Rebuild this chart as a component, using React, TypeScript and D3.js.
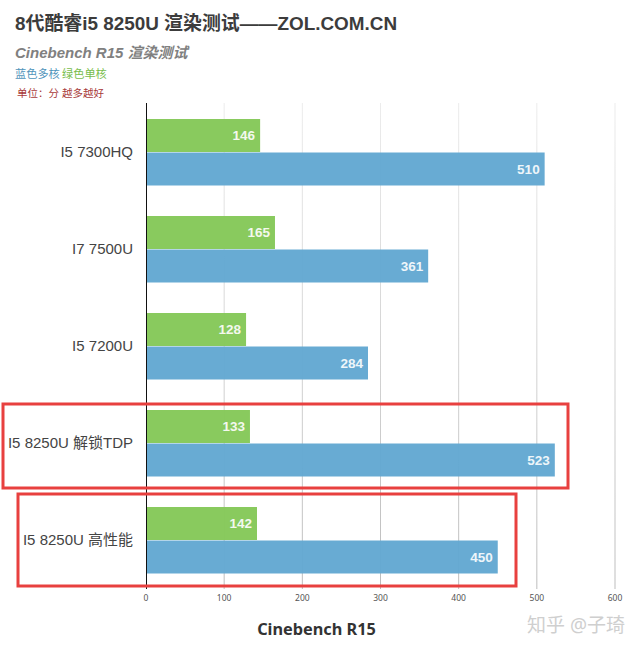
import React from "react";
import * as d3 from "d3";

const categories = ["I5 7300HQ", "I7 7500U", "I5 7200U", "I5 8250U 解锁TDP", "I5 8250U 高性能"];
const singleCore = [146, 165, 128, 133, 142];
const multiCore = [510, 361, 284, 523, 450];
const ticks = [0, 100, 200, 300, 400, 500, 600];
const highlighted = [
  { index: 3, left: 3, right: 568, top: 404, bottom: 488 },
  { index: 4, left: 18, right: 516, top: 494, bottom: 586 },
];

const SANS = '"Liberation Sans", "Noto Sans CJK SC", sans-serif';
const NOTO = '"Noto Sans", "Noto Sans CJK SC", sans-serif';

export default function App() {
  const x = d3.scaleLinear().domain([0, 600]).range([146, 615]);
  const y = d3.scaleBand<string>().domain(categories).range([103.5, 588.5]);
  const band = y.bandwidth();
  const barH = 33;

  return (
    <svg width={640} height={652} viewBox="0 0 640 652"
      style={{ position: "absolute", left: 0, top: 0, background: "#fff" }}>
      <defs>
        <linearGradient id="gridFade" gradientUnits="userSpaceOnUse" x1="0" x2="0" y1="103" y2="588">
          <stop offset="0" stopColor="#ececec" />
          <stop offset="1" stopColor="#bdbdbd" />
        </linearGradient>
      </defs>

      <text x={15} y={30} fontFamily={SANS} fontWeight={700} fontSize={18.9} fill="#3c3c3c">8代酷睿i5 8250U 渲染测试——ZOL.COM.CN</text>
      <text x={15} y={58} fontFamily={SANS} fontWeight={700} fontStyle="italic" fontSize={15} fill="#808080">Cinebench R15 渲染测试</text>
      <text x={15} y={78} fontFamily={SANS} fontSize={11.2} fill="#4f94bb">蓝色多核</text>
      <text x={62} y={78} fontFamily={SANS} fontSize={11.2} fill="#78bd4c">绿色单核</text>
      <text x={17} y={97} fontFamily={SANS} fontSize={10.5} fill="#a83a3a">单位：分 越多越好</text>

      {ticks.slice(1).map((t) => (
        <line key={t} x1={x(t)} x2={x(t)} y1={103} y2={589} stroke="url(#gridFade)" strokeWidth={1} />
      ))}

      {categories.map((c, i) => {
        const cy = (y(c) as number) + band / 2;
        return (
          <g key={c}>
            <rect x={x(0)} y={cy - barH} width={x(singleCore[i]) - x(0)} height={barH} fill="#84c857" fillOpacity={0.96} />
            <rect x={x(0)} y={cy + 0.5} width={x(multiCore[i]) - x(0)} height={barH} fill="#62a8d1" fillOpacity={0.96} />
            <text x={x(singleCore[i]) - 5} y={cy - 12} textAnchor="end" fontFamily={SANS} fontWeight={700} fontSize={13.5} fill="#f4f8ee">{singleCore[i]}</text>
            <text x={x(multiCore[i]) - 5} y={cy + 21.5} textAnchor="end" fontFamily={SANS} fontWeight={700} fontSize={13.5} fill="#eef6fa">{multiCore[i]}</text>
            <text x={133} y={cy + 4.5} textAnchor="end" fontFamily={SANS} fontSize={15} fill="#444">{c}</text>
          </g>
        );
      })}

      <line x1={x(0) + 0.5} x2={x(0) + 0.5} y1={103} y2={589} stroke="#111" strokeWidth={1} />

      {highlighted.map((h) => (
        <rect key={h.index} x={h.left} y={h.top} width={h.right - h.left} height={h.bottom - h.top}
          fill="none" stroke="#e8403f" strokeWidth={3} />
      ))}

      {ticks.map((t) => (
        <text key={t} x={x(t)} y={601} textAnchor="middle" fontFamily={NOTO} fontSize={8.5} fill="#555">{t}</text>
      ))}

      <text x={316.5} y={635} textAnchor="middle" fontFamily={NOTO} fontWeight={700} fontSize={16.3} fill="#333">Cinebench R15</text>
      <text x={527} y={632} fontFamily={NOTO} fontSize={19} fill="#cfcfcf">知乎 @子琦</text>
    </svg>
  );
}
